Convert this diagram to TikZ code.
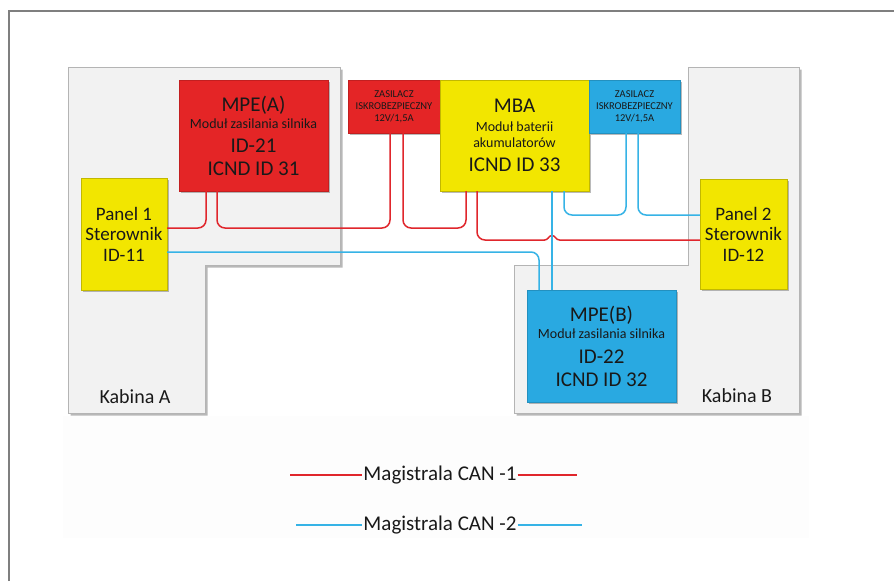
\documentclass[tikz,border=0pt]{standalone}
\usepackage{fontspec}
\setmainfont{Carlito}
\usetikzlibrary{shadows,calc}
\definecolor{boxred}{HTML}{E42526}
\definecolor{boxyellow}{HTML}{F2E600}
\definecolor{boxblue}{HTML}{29A9E1}
\definecolor{wirered}{HTML}{E0262C}
\definecolor{wireblue}{HTML}{36B3E6}
\definecolor{cabfill}{HTML}{F2F2F2}
\definecolor{cabdraw}{HTML}{B4B4B4}
\definecolor{framec}{HTML}{7F7F7F}
\tikzset{
  box/.style={anchor=north west, inner sep=0pt, outer sep=0pt, align=center,
    text=black!90, line width=0.4pt,
    drop shadow={shadow xshift=2pt, shadow yshift=-2pt, opacity=0.45, fill=black!60}},
  redbox/.style={box, fill=boxred, draw=boxred!85!black},
  yelbox/.style={box, fill=boxyellow, draw=boxyellow!80!black},
  bluebox/.style={box, fill=boxblue, draw=boxblue!85!black},
  wire/.style={line width=1.5pt, rounded corners=8pt},
  redw/.style={wire, draw=wirered},
  bluew/.style={wire, draw=wireblue},
  cabin/.style={fill=cabfill, draw=cabdraw, line width=0.7pt,
    drop shadow={shadow xshift=2.5pt, shadow yshift=-2.5pt, opacity=0.5, fill=black!55}},
  cabtext/.style={anchor=base, inner sep=0pt, text=black!90, font=\fontsize{20}{22}\selectfont},
  legtext/.style={inner sep=1pt, text=black!90, font=\fontsize{21}{23}\selectfont},
}
\begin{document}
\begin{tikzpicture}[x=1pt,y=-1pt]
\useasboundingbox (0,0) rectangle (894,581);
\fill[white] (0,0) rectangle (894,581);
% frame
\draw[framec, line width=1.2pt] (9,581) -- (9,11) -- (894,11);
% faint legend area
\fill[black!0.8] (63,416) rectangle (809,538);
% cabins
\path[cabin] (68,67) -- (340,67) -- (340,265) -- (205,265) -- (205,413) -- (68,413) -- cycle;
\path[cabin] (688,67) -- (799,67) -- (799,413) -- (514,413) -- (514,265) -- (688,265) -- cycle;
\node[cabtext] (kabA) at (135,403) {Kabina A};
\node[cabtext] (kabB) at (737,402) {Kabina B};
% boxes
\node[redbox, minimum width=149pt, minimum height=111pt, font=\fontsize{21}{23}\selectfont] (mpea) at (179,80)
  {MPE(A)\\[-6pt]{\fontsize{14}{14}\selectfont Moduł zasilania silnika}\\[1pt]ID-21\\ICND ID 31};
\node[redbox, minimum width=92pt, minimum height=53pt, font=\fontsize{10.5}{12}\selectfont] (zasr) at (348,80)
  {ZASILACZ\\ISKROBEZPIECZNY\\12V/1,5A};
\node[yelbox, minimum width=149pt, minimum height=111pt, font=\fontsize{21}{23}\selectfont] (mba) at (440,80)
  {MBA\\[-4pt]{\fontsize{14}{14}\selectfont Moduł baterii}\\[-7pt]{\fontsize{14}{14}\selectfont akumulatorów}\\[1pt]ICND ID 33};
\node[bluebox, minimum width=91pt, minimum height=53pt, font=\fontsize{10.5}{12}\selectfont] (zasb) at (589,80)
  {ZASILACZ\\ISKROBEZPIECZNY\\12V/1,5A};
\node[yelbox, minimum width=86pt, minimum height=112pt, font=\fontsize{19}{20.5}\selectfont] (panel1) at (81,178)
  {Panel 1\\Sterownik\\ID-11};
\node[yelbox, minimum width=87pt, minimum height=110pt, font=\fontsize{19}{20.5}\selectfont] (panel2) at (700,179)
  {Panel 2\\Sterownik\\ID-12};
\node[bluebox, minimum width=149pt, minimum height=112pt, font=\fontsize{21}{23}\selectfont] (mpeb) at (527,290)
  {MPE(B)\\[-6pt]{\fontsize{14}{14}\selectfont Moduł zasilania silnika}\\[2pt]ID-22\\ICND ID 32};
% CAN-1 (red)
\draw[redw] ([yshift=6pt]panel1.east) -| ([xshift=27pt]mpea.south west);
\draw[redw] ([xshift=38pt]mpea.south west) -- ++(0,37) -| ([xshift=42pt]zasr.south west);
\draw[redw] ([xshift=55pt]zasr.south west) -- ++(0,95) -| ([xshift=26pt]mba.south west);
\coordinate (hopc) at ($([xshift=112pt]mba.south west)+(0,49)$);
\draw[redw] ([xshift=37pt]mba.south west) -- ++(0,49) -- ([xshift=-7pt]hopc);
\draw[wirered, line width=1.5pt] ([xshift=-7.5pt]hopc)
  .. controls ([xshift=-3.5pt]hopc) and ([xshift=-3.5pt,yshift=4.5pt]hopc) .. ([yshift=4.5pt]hopc)
  .. controls ([xshift=3.5pt,yshift=4.5pt]hopc) and ([xshift=3.5pt]hopc) .. ([xshift=7.5pt]hopc)
  -- ([yshift=-6pt]panel2.west);
% CAN-2 (blue)
\draw[bluew] ([yshift=-18pt]panel1.east) -| ([xshift=12pt]mpeb.north west);
\draw[bluew] ([xshift=112pt]mba.south west) -- ([xshift=25pt]mpeb.north west);
\draw[bluew] ([xshift=124pt]mba.south west) -- ++(0,24) -| ([xshift=37pt]zasb.south west);
\draw[bluew] ([xshift=49pt]zasb.south west) |- ([yshift=19pt]panel2.west);
% legend
\node[legtext] (leg1) at (440,475) {Magistrala CAN -1};
\coordinate (l1a) at (290,475);
\coordinate (l1b) at (577,475);
\draw[wirered, line width=1.5pt] (l1a) -- (leg1.west);
\draw[wirered, line width=1.5pt] (leg1.east) -- (l1b);
\node[legtext] (leg2) at (440,525) {Magistrala CAN -2};
\coordinate (l2a) at (296,525);
\coordinate (l2b) at (582,525);
\draw[wireblue, line width=1.5pt] (l2a) -- (leg2.west);
\draw[wireblue, line width=1.5pt] (leg2.east) -- (l2b);
\end{tikzpicture}
\end{document}
